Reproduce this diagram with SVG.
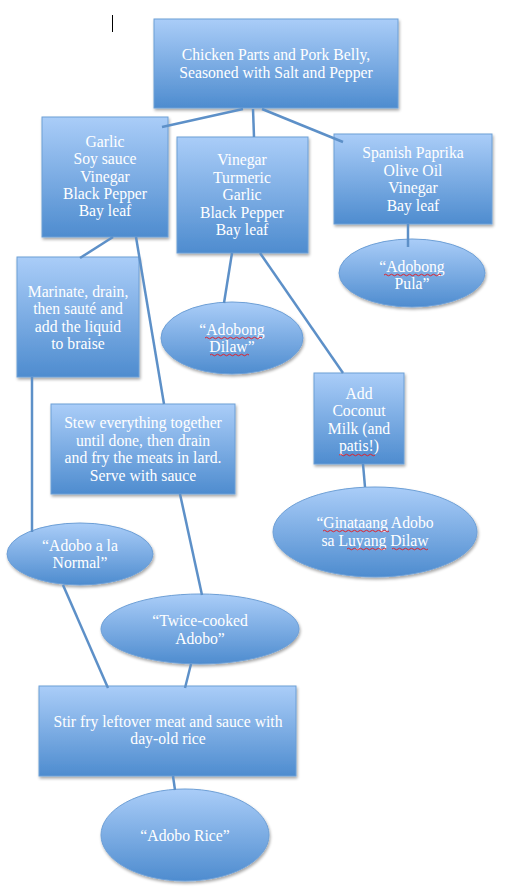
<svg xmlns="http://www.w3.org/2000/svg" width="521" height="889" viewBox="0 0 521 889">
<defs>
<linearGradient id="g" x1="0" y1="0" x2="0" y2="1">
<stop offset="0" stop-color="#aacdf8"/>
<stop offset="1" stop-color="#4e8ccf"/>
</linearGradient>
<filter id="sh" x="-10%" y="-10%" width="125%" height="130%">
<feGaussianBlur in="SourceAlpha" stdDeviation="1.5"/>
<feOffset dx="1" dy="2" result="b"/>
<feComponentTransfer><feFuncA type="linear" slope="0.35"/></feComponentTransfer>
<feMerge><feMergeNode/><feMergeNode in="SourceGraphic"/></feMerge>
</filter>
</defs>
<style>
.n{fill:url(#g);stroke:#6d9fd6;stroke-width:1;filter:url(#sh)}
.t{font-family:"Liberation Serif",serif;font-size:15.7px;fill:#ffffff;text-anchor:middle}
.c line{stroke:#5d90c8;stroke-width:2.5}
.sq{fill:none;stroke:#e0202a;stroke-width:1}
</style>
<rect width="521" height="889" fill="#ffffff"/>
<line x1="112.5" y1="15" x2="112.5" y2="32" stroke="#000" stroke-width="1"/>

<g id="top"><rect class="n" x="154" y="19" width="244" height="89"/>
<text class="t" x="276" y="60">Chicken Parts and Pork Belly,</text>
<text class="t" x="276" y="78">Seasoned with Salt and Pepper</text></g>

<g id="garlic"><rect class="n" x="42" y="117" width="126" height="120"/>
<text class="t" x="105" y="147">Garlic</text>
<text class="t" x="105" y="164">Soy sauce</text>
<text class="t" x="105" y="182">Vinegar</text>
<text class="t" x="105" y="199">Black Pepper</text>
<text class="t" x="105" y="216">Bay leaf</text></g>

<g id="vinegar"><rect class="n" x="177" y="137" width="131" height="116"/>
<text class="t" x="242" y="165">Vinegar</text>
<text class="t" x="242" y="183">Turmeric</text>
<text class="t" x="242" y="200">Garlic</text>
<text class="t" x="242" y="218">Black Pepper</text>
<text class="t" x="242" y="235">Bay leaf</text></g>

<g id="paprika"><rect class="n" x="334" y="134" width="158" height="90"/>
<text class="t" x="413" y="158">Spanish Paprika</text>
<text class="t" x="413" y="176">Olive Oil</text>
<text class="t" x="413" y="193">Vinegar</text>
<text class="t" x="413" y="211">Bay leaf</text></g>

<g id="pula"><ellipse class="n" cx="412" cy="273" rx="73" ry="34"/>
<text class="t" x="412" y="272">“Adobong</text>
<text class="t" x="412" y="289">Pula”</text>
<path class="sq" d="M384 275q1.5 -1.5 3 0t3 0t3 0t3 0t3 0t3 0t3 0t3 0t3 0t3 0t3 0t3 0t3 0t3 0t3 0t3 0t3 0t3 0t3 0"/></g>

<g id="marinate"><rect class="n" x="17" y="257" width="122" height="120"/>
<text class="t" x="78" y="297">Marinate, drain,</text>
<text class="t" x="78" y="314">then sauté and</text>
<text class="t" x="78" y="332">add the liquid</text>
<text class="t" x="78" y="349">to braise</text></g>

<g id="dilaw"><ellipse class="n" cx="232" cy="338" rx="71" ry="36"/>
<text class="t" x="232" y="335">“Adobong</text>
<text class="t" x="232" y="352">Dilaw”</text>
<path class="sq" d="M205 338q1.5 -1.5 3 0t3 0t3 0t3 0t3 0t3 0t3 0t3 0t3 0t3 0t3 0t3 0t3 0t3 0t3 0t3 0t3 0t3 0t3 0"/>
<path class="sq" d="M210 355q1.5 -1.5 3 0t3 0t3 0t3 0t3 0t3 0t3 0t3 0t3 0t3 0t3 0t3 0t3 0"/></g>

<g id="coconut"><rect class="n" x="314" y="373" width="90" height="91"/>
<text class="t" x="359" y="399">Add</text>
<text class="t" x="359" y="416">Coconut</text>
<text class="t" x="359" y="434">Milk (and</text>
<text class="t" x="359" y="451">patis!)</text>
<path class="sq" d="M339 455q1.5 -1.5 3 0t3 0t3 0t3 0t3 0t3 0t3 0t3 0t3 0t3 0t3 0t3 0"/></g>

<g id="stew"><rect class="n" x="51" y="404" width="184" height="90"/>
<text class="t" x="143" y="428">Stew everything together</text>
<text class="t" x="143" y="446">until done, then drain</text>
<text class="t" x="143" y="463">and fry the meats in lard.</text>
<text class="t" x="143" y="481">Serve with sauce</text></g>

<g id="ginataang"><ellipse class="n" cx="375" cy="532" rx="102" ry="45"/>
<text class="t" x="375" y="528">“Ginataang Adobo</text>
<text class="t" x="375" y="546">sa Luyang Dilaw</text>
<path class="sq" d="M323 531q1.5 -1.5 3 0t3 0t3 0t3 0t3 0t3 0t3 0t3 0t3 0t3 0t3 0t3 0t3 0t3 0t3 0t3 0t3 0t3 0t3 0t3 0t3 0t3 0"/>
<path class="sq" d="M347 549q1.5 -1.5 3 0t3 0t3 0t3 0t3 0t3 0t3 0t3 0t3 0t3 0t3 0t3 0t3 0"/>
<path class="sq" d="M392 549q1.5 -1.5 3 0t3 0t3 0t3 0t3 0t3 0t3 0t3 0t3 0t3 0t3 0t3 0"/></g>

<g id="normal"><ellipse class="n" cx="80" cy="554" rx="73" ry="31"/>
<text class="t" x="80" y="551">“Adobo a la</text>
<text class="t" x="80" y="568">Normal”</text></g>

<g id="twice"><ellipse class="n" cx="200" cy="629" rx="99" ry="35"/>
<text class="t" x="200" y="626">“Twice-cooked</text>
<text class="t" x="200" y="644">Adobo”</text></g>

<g id="stirfry"><rect class="n" x="39" y="686" width="257" height="90"/>
<text class="t" x="168" y="727">Stir fry leftover meat and sauce with</text>
<text class="t" x="168" y="744">day-old rice</text></g>

<g id="rice"><ellipse class="n" cx="185" cy="835" rx="84" ry="46"/>
<text class="t" x="185" y="841">“Adobo Rice”</text></g>

<g id="connectors" class="c">
<line x1="243" y1="109" x2="162" y2="127"/>
<line x1="253" y1="109" x2="254" y2="137"/>
<line x1="262" y1="109" x2="343" y2="142"/>
<line x1="113" y1="237" x2="80" y2="258"/>
<line x1="136" y1="237" x2="164" y2="404"/>
<line x1="408" y1="224" x2="408" y2="247"/>
<line x1="232" y1="253" x2="224" y2="303"/>
<line x1="260" y1="253" x2="343" y2="373"/>
<line x1="32" y1="377" x2="32" y2="532"/>
<line x1="363" y1="464" x2="365" y2="487"/>
<line x1="180" y1="494" x2="202" y2="595"/>
<line x1="63" y1="585" x2="108" y2="688"/>
<line x1="191" y1="664" x2="185" y2="688"/>
<line x1="173" y1="776" x2="175" y2="790"/>
</g>
</svg>
